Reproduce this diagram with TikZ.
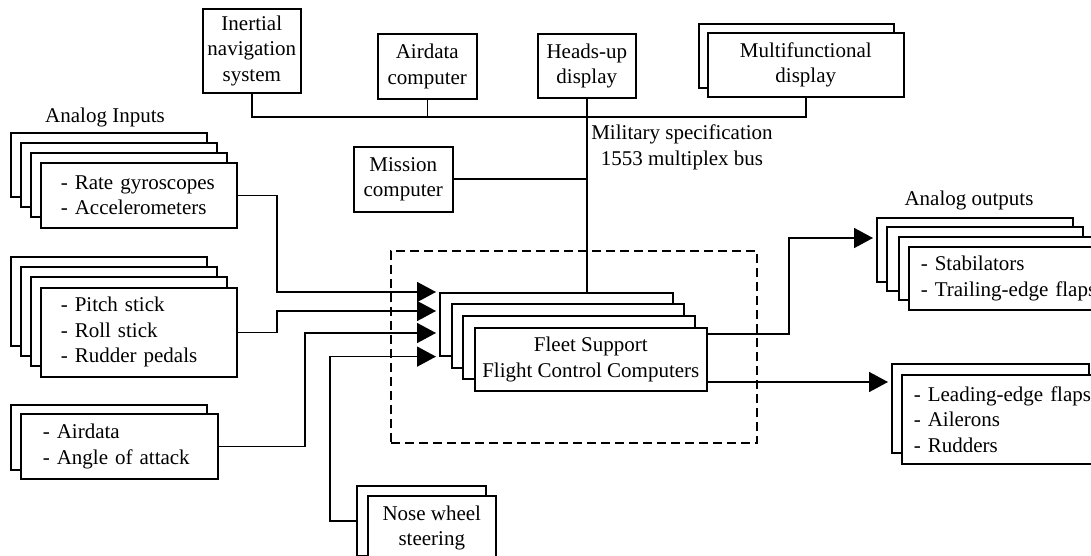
\documentclass[tikz,border=0pt]{standalone}
\usepackage{fontspec}
\setmainfont{Liberation Serif}
\usetikzlibrary{arrows.meta}

\begin{document}
\begin{tikzpicture}[x=1pt, y=-1pt,
  every node/.style={font=\fontsize{21}{25.5}\selectfont},
  box/.style={draw, fill=white, line width=1.6pt, inner sep=0pt,
              anchor=north west, align=center},
  sz/.style 2 args={minimum width=#1, minimum height=#2},
  lst/.style 2 args={box, align=left, minimum width=#1, text width=#1-2*#2,
                     inner xsep=#2},
  wire/.style={line width=1.6pt},
  feed/.style={wire, -{Triangle[length=19pt,width=20pt]}, shorten >=3pt},
  frame/.style={draw, line width=1.6pt, dash pattern=on 9pt off 5pt,
                inner sep=0pt, anchor=north west},
  lbl/.style={inner sep=0pt, align=center}
]
\useasboundingbox (0,0) rectangle (1091,556);
\clip (0,0) rectangle (1091,556);

% ---------------- avionics on the multiplex bus ----------------
\node[box, sz={98pt}{84pt}]  (ins) at (202,8)  {Inertial\\navigation\\system};
\node[box, sz={99pt}{65pt}]  (adc) at (377,33) {Airdata\\computer};
\node[box, sz={98pt}{64pt}]  (hud) at (537,33) {Heads-up\\display};
\node[box, sz={195pt}{64pt}] (mfd1) at (698,23) {};
\node[box, sz={196pt}{64pt}] (mfd2) at (707,32) {Multifunctional\\display};
\node[box, sz={99pt}{65pt}]  (mc)  at (353,146) {Mission\\computer};

\node[lbl] (bus) at (682,147.5) {Military specification\\1553 multiplex bus};

% ---------------- flight control computers ----------------
\node[frame, minimum width=366pt, minimum height=192pt] (grp) at (390,250) {};
\node[box, sz={233pt}{63pt}] (fcc1) at (439,292) {};
\node[box, sz={232pt}{64pt}] (fcc2) at (451,303) {};
\node[box, sz={232pt}{63pt}] (fcc3) at (462,315) {};
\node[box, sz={232pt}{63pt}] (fcc4) at (474,327) {Fleet Support\\Flight Control Computers};

% ---------------- analog inputs ----------------
\node[lbl] (ain) at (105,117) {Analog Inputs};
\node[box, sz={196pt}{64pt}] (rg1) at (10,132) {};
\node[box, sz={196pt}{64pt}] (rg2) at (20,142) {};
\node[box, sz={196pt}{64pt}] (rg3) at (30,152) {};
\node[lst={196pt}{20pt}, minimum height=65pt] (rg4) at (40,162)
  {-\hspace{7pt}Rate gyroscopes\\-\hspace{7pt}Accelerometers};

\node[box, sz={196pt}{89pt}] (ps1) at (10,256) {};
\node[box, sz={196pt}{89pt}] (ps2) at (20,266) {};
\node[box, sz={196pt}{89pt}] (ps3) at (30,276) {};
\node[lst={196pt}{20pt}, minimum height=89pt] (ps4) at (40,287)
  {-\hspace{7pt}Pitch stick\\-\hspace{7pt}Roll stick\\-\hspace{7pt}Rudder pedals};

\node[box, sz={196pt}{65pt}] (ad1) at (10,404) {};
\node[lst={197pt}{22pt}, minimum height=65pt] (ad2) at (20,413)
  {-\hspace{7pt}Airdata\\-\hspace{7pt}Angle of attack};

\node[box, sz={129pt}{70pt}] (nw1) at (356,485) {};
\node[box, sz={128pt}{64pt}] (nw2) at (367,495) {Nose wheel\\steering};

% ---------------- analog outputs ----------------
\node[lbl] (aout) at (969,200) {Analog outputs};
\node[box, sz={196pt}{64pt}] (st1) at (876,217) {};
\node[box, sz={196pt}{64pt}] (st2) at (886,226) {};
\node[box, sz={210pt}{63pt}] (st3) at (898,236) {};
\node[lst={210pt}{12pt}, minimum height=63pt] (st4) at (908,246)
  {-\hspace{7pt}Stabilators\\-\hspace{7pt}Trailing-edge flaps};

\node[box, sz={197pt}{89pt}] (le1) at (891,363) {};
\node[lst={210pt}{12pt}, minimum height=89pt] (le2) at (901,374)
  {-\hspace{7pt}Leading-edge flaps\\-\hspace{7pt}Ailerons\\-\hspace{7pt}Rudders};

% ---------------- bus wiring ----------------
\coordinate (busy) at (0,117);
\draw[wire] (ins.south) -- (ins.south |- busy) -| (mfd2.south);
\draw[wire] (adc.south) -- (adc.south |- busy);
\draw[wire] (hud.south) -- (fcc1.north -| hud.south);
\draw[wire] (mc.east) -- (mc.east -| hud.south);

% ---------------- input feeds ----------------
\coordinate (inA) at (277,0);
\coordinate (inB) at (305,0);
\coordinate (inC) at (330,0);
\draw[feed] (rg4.east) -| (inA |- fcc1.north west) -- (fcc1.north west);
\draw[feed] (ps4.east) -| (inA |- 0,311) -- (fcc1.west |- 0,311);
\draw[feed] (ad2.east) -| (inB |- 0,333) -- (fcc1.west |- 0,333);
\draw[feed] (nw1.west) -| (inC |- fcc1.south west) -- (fcc1.south west);

% ---------------- output feeds ----------------
\coordinate (outA) at (789,0);
\draw[feed] (fcc4.east |- 0,334) -| (outA |- 0,238) -- (st1.west |- 0,238);
\draw[feed] (fcc4.east |- 0,382) -- (le1.west |- 0,382);
\end{tikzpicture}
\end{document}
